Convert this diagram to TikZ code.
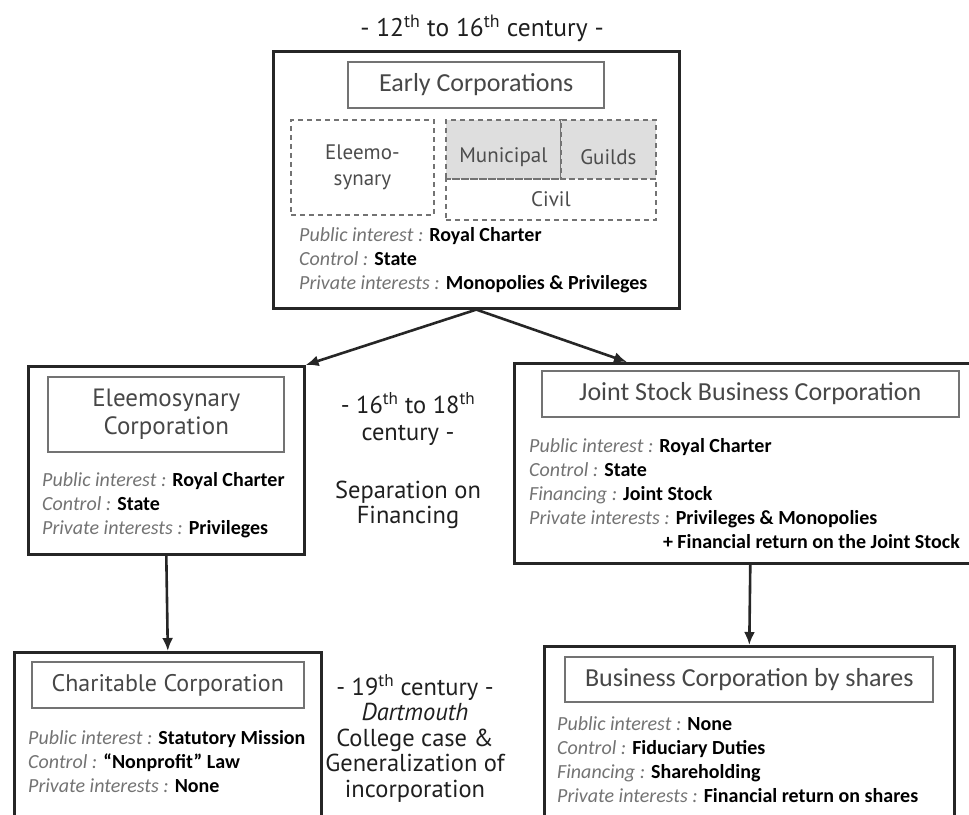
\documentclass[tikz,border=0pt]{standalone}
\usepackage{fontspec}
\setmainfont{Carlito}
\newfontfamily\gothic{PT Sans}
\usetikzlibrary{positioning,arrows.meta}
\newcommand{\field}[2]{{\color{black!55}\itshape #1 :} \textbf{#2}}
\tikzset{corp node/.style={draw=black!85,line width=2.6pt,inner sep=0pt,anchor=north west},
  name box/.style={draw=black!55,line width=1.8pt,inner sep=0pt,text=black!72,font=\fontsize{26}{28}\selectfont,align=center},
  part box/.style={draw=black!55,dash pattern=on 5pt off 4pt,line width=1.8pt,inner sep=0pt,anchor=north west,text=black!70,font=\gothic\fontsize{21}{26}\selectfont,align=center},
  part label/.style={text=black!70,font=\gothic\fontsize{21}{26}\selectfont,yshift=-8pt},
  attr text/.style={align=left,anchor=north west,inner sep=0pt,font=\fontsize{20}{24}\selectfont},
  era/.style={align=center,inner sep=0pt,text=black!88,font=\gothic\fontsize{24.5}{25.5}\selectfont},
  link/.style={-{Latex[length=13pt,width=11pt]},line width=2.6pt,black!85}}

\begin{document}
\begin{tikzpicture}[x=1pt,y=-1pt]
    \useasboundingbox (0,0) rectangle (969,814);
    \clip (0,0) rectangle (969,814);

    \node[era,font=\gothic\fontsize{25.5}{27}\selectfont] (era0) at (482,28) {- 12\textsuperscript{th} to 16\textsuperscript{th} century -};
    \node[corp node,minimum width=406pt,minimum height=257pt] (early) at (272,50) {};
    \node[name box,minimum width=256pt,minimum height=46pt,below=11pt of early.north] (earlyname) {Early Corporations};
    \node[part box,minimum width=143pt,minimum height=95pt] (eleemo) at (290,119) {Eleemo-\\synary};
    \node[part box,fill=black!13,minimum width=115pt,minimum height=59pt,label={[part label]center:Municipal}] (muni) at (445,119) {};
    \node[part box,fill=black!13,minimum width=95pt,minimum height=59pt,label={[part label]center:Guilds}] (guild) at (560,119) {};
    \node[part box,minimum width=210pt,minimum height=41pt] (civil) at (445,178) {Civil};
    \node[attr text,below right=177pt and 27pt of early.north west] (earlyattr)
        {\field{Public interest}{Royal Charter}\\\field{Control}{State}\\\field{Private interests}{Monopolies \& Privileges}};

    \node[corp node,minimum width=276pt,minimum height=188pt] (elee) at (27,365) {};
    \node[name box,font=\gothic\fontsize{25}{28}\selectfont,minimum width=236pt,minimum height=75pt,below=11pt of elee.north] (eleename) {Eleemosynary\\Corporation};
    \node[attr text,below right=107pt and 15pt of elee.north west] (eleeattr)
        {\field{Public interest}{Royal Charter}\\\field{Control}{State}\\\field{Private interests}{Privileges}};

    \node[era] (era1) at (408,419) {- 16\textsuperscript{th} to 18\textsuperscript{th}\\[2pt]century -};
    \node[era] (split) at (408,505) {Separation on\\Financing};

    \node[corp node,minimum width=472pt,minimum height=200pt] (jsbc) at (513,362) {};
    \node[name box,minimum width=417pt,minimum height=46pt,below=8pt of jsbc.north] (jsbcname) {Joint Stock Business Corporation};
    \node[attr text,below right=76pt and 16pt of jsbc.north west] (jsbcattr)
        {\field{Public interest}{Royal Charter}\\\field{Control}{State}\\\field{Financing}{Joint Stock}\\\field{Private interests}{Privileges \& Monopolies}};
    \node[attr text,anchor=north east] (jsbcmore) at (960,534) {\textbf{+ Financial return on the Joint Stock}};

    \node[corp node,minimum width=307pt,minimum height=175pt] (charit) at (13,651) {};
    \node[name box,font=\gothic\fontsize{24}{28}\selectfont,minimum width=272pt,minimum height=46pt,below=10pt of charit.north] (charitname) {Charitable Corporation};
    \node[attr text,below right=79pt and 15pt of charit.north west] (charitattr)
        {\field{Public interest}{Statutory Mission}\\\field{Control}{``Nonprofit'' Law}\\\field{Private interests}{None}};

    \node[era] (era2) at (415,738) {- 19\textsuperscript{th} century -\\\textit{Dartmouth}\\College case \&\\Generalization of\\incorporation};

    \node[corp node,minimum width=410pt,minimum height=180pt] (busi) at (543,645) {};
    \node[name box,minimum width=368pt,minimum height=45pt,below=11pt of busi.north] (businame) {Business Corporation by shares};
    \node[attr text,below right=71pt and 14pt of busi.north west] (busiattr)
        {\field{Public interest}{None}\\\field{Control}{Fiduciary Duties}\\\field{Financing}{Shareholding}\\\field{Private interests}{Financial return on shares}};

    \coordinate (jsbcin) at (627,362);
    \path[link] (early.south) edge (elee.north east)
        (early.south) edge (jsbcin)
        (elee.south) edge (charit.north)
        (jsbc.south) edge (busi.north);
\end{tikzpicture}
\end{document}
